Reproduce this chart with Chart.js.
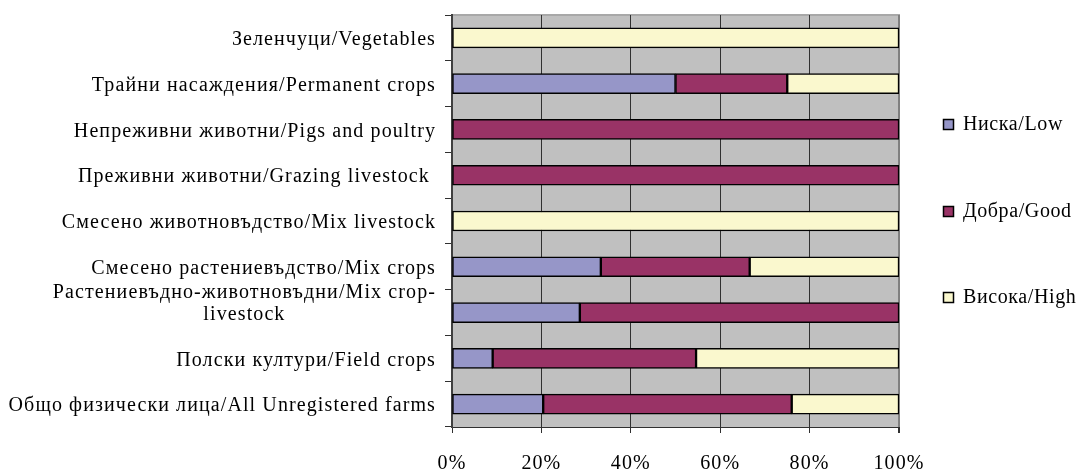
<!DOCTYPE html>
<html>
<head>
<meta charset="utf-8">
<script src="https://cdn.jsdelivr.net/npm/chart.js@4.4.1/dist/chart.umd.min.js"></script>
<style>
html,body{margin:0;padding:0;background:#fff;}
#wrap{width:1082px;height:470px;}
</style>
</head>
<body>
<div id="wrap"><canvas id="c" width="1082" height="470"></canvas></div>
<script>
const categories = [
  'Зеленчуци/Vegetables',
  'Трайни насаждения/Permanent crops',
  'Непреживни животни/Pigs and poultry',
  'Преживни животни/Grazing livestock ',
  'Смесено животновъдство/Mix livestock',
  'Смесено растениевъдство/Mix crops',
  ['Растениевъдно-животновъдни/Mix crop-', 'livestock'],
  'Полски култури/Field crops',
  'Общо физически лица/All Unregistered farms'
];
const seriesNames = ['Ниска/Low', 'Добра/Good', 'Висока/High'];
const lowValues  = [0, 50, 0, 0, 0, 33.3, 28.6, 9.1, 20.4];
const goodValues = [0, 25, 100, 100, 0, 33.3, 71.4, 45.5, 55.6];
const highValues = [100, 25, 0, 0, 100, 33.4, 0, 45.4, 24.0];
const xTicks = [0, 20, 40, 60, 80, 100];

const colors = ['#9696C8', '#993366', '#FAF8CE'];
const FONT = '"Liberation Serif", "Times New Roman", serif';
const FS = 20;
const LS = '1.1px';

const bgPlugin = {
  id: 'bg',
  beforeDraw(chart) {
    const {ctx, chartArea: a} = chart;
    ctx.save();
    ctx.fillStyle = '#C0C0C0';
    ctx.fillRect(a.left, a.top, a.right - a.left, a.bottom - a.top);
    ctx.strokeStyle = '#A8A8A8';
    ctx.lineWidth = 2;
    ctx.beginPath();
    ctx.moveTo(a.left, a.top);
    ctx.lineTo(a.right + 1, a.top);
    ctx.stroke();
    ctx.restore();
    try { ctx.letterSpacing = LS; } catch (e) {}
  },
  afterDraw(chart) {
    const {ctx} = chart;
    const ys = chart.scales.y;
    ctx.save();
    ctx.font = FS + 'px ' + FONT;
    ctx.fillStyle = '#000';
    ctx.textBaseline = 'middle';
    ctx.textAlign = 'center';
    try { ctx.letterSpacing = LS; } catch (e) {}
    const rightEdge = 436;
    const lh = 22;
    categories.forEach((lab, i) => {
      const lines = Array.isArray(lab) ? lab : [lab];
      const w = Math.max(...lines.map(l => ctx.measureText(l).width));
      const cx = rightEdge - w / 2;
      const yc = ys.getPixelForValue(i) + 2;
      const y0 = yc - (lines.length - 1) * lh;
      lines.forEach((l, k) => ctx.fillText(l, cx, y0 + k * lh));
    });
    // legend
    ctx.textAlign = 'left';
    try { ctx.letterSpacing = '0.6px'; } catch (e) {}
    const legY = [124, 211, 297];
    chart.data.datasets.forEach((ds, i) => {
      const y = legY[i];
      ctx.fillStyle = ds.backgroundColor;
      ctx.fillRect(943, y - 5, 11, 11);
      ctx.strokeStyle = '#000';
      ctx.lineWidth = 1.5;
      ctx.strokeRect(943.5, y - 4.5, 10, 10);
      ctx.fillStyle = '#000';
      ctx.fillText(ds.label, 963, y + 1);
    });
    ctx.restore();
  }
};

new Chart(document.getElementById('c'), {
  type: 'bar',
  data: {
    labels: categories,
    datasets: [
      {label: seriesNames[0], data: lowValues, backgroundColor: colors[0]},
      {label: seriesNames[1], data: goodValues, backgroundColor: colors[1]},
      {label: seriesNames[2], data: highValues, backgroundColor: colors[2]}
    ]
  },
  options: {
    indexAxis: 'y',
    responsive: false,
    animation: false,
    devicePixelRatio: 1,
    layout: {padding: {left: 0, top: 15, right: 183, bottom: 0}},
    datasets: {
      bar: {
        barThickness: 20,
        borderWidth: 1.5,
        borderColor: '#000',
        borderSkipped: false
      }
    },
    plugins: {legend: {display: false}, tooltip: {enabled: false}},
    scales: {
      x: {
        stacked: true,
        min: 0,
        max: 100,
        afterBuildTicks(s) { s.ticks = xTicks.map(v => ({value: v})); },
        afterFit(s) { s.height = 43; },
        ticks: {
          callback: v => v + '%',
          font: {family: FONT, size: FS},
          color: '#000',
          padding: 19,
          maxRotation: 0
        },
        grid: {
          color: c => (c.tick && c.tick.value === 100) ? '#808080' : '#303030',
          lineWidth: c => (c.tick && c.tick.value === 100) ? 2 : 1,
          tickLength: 6,
          tickColor: '#303030'
        },
        border: {display: true, color: '#303030', width: 1}
      },
      y: {
        stacked: true,
        afterFit(s) { s.width = 452; },
        ticks: {display: false},
        grid: {drawOnChartArea: false, tickLength: 7, color: '#303030'},
        border: {display: true, color: '#404040', width: 2}
      }
    }
  },
  plugins: [bgPlugin]
});
</script>
</body>
</html>
